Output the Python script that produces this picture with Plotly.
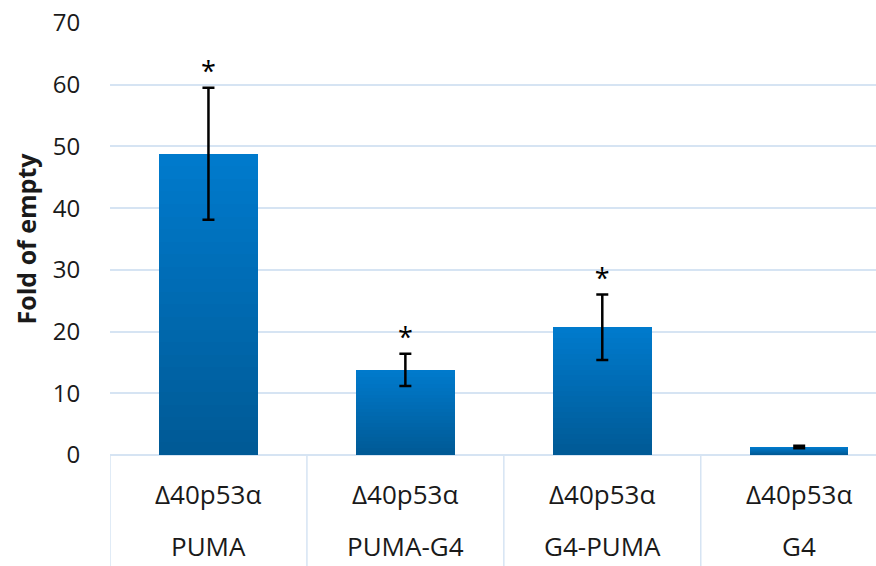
import plotly.graph_objects as go

categories = ["PUMA", "PUMA-G4", "G4-PUMA", "G4"]
construct = ["Δ40p53α", "Δ40p53α", "Δ40p53α", "Δ40p53α"]
values = [48.8, 13.8, 20.7, 1.3]
errors = [10.7, 2.6, 5.3, 0.2]
significance = ["*", "*", "*", ""]
y_ticks = [0, 10, 20, 30, 40, 50, 60, 70]

FONT = "Open Sans"
GRID = "#D6E4F3"
TXT = "#1a1a1a"

x = list(range(len(categories)))

fig = go.Figure()

# gradient bars: overlay progressively shorter bars, light at top to dark at bottom
N = 24
top_rgb = (0, 122, 204)
bot_rgb = (0, 90, 150)
for k in range(N):
    f = 1 - k / N
    t = k / (N - 1)
    r = round(top_rgb[0] + (bot_rgb[0] - top_rgb[0]) * t)
    g = round(top_rgb[1] + (bot_rgb[1] - top_rgb[1]) * t)
    b = round(top_rgb[2] + (bot_rgb[2] - top_rgb[2]) * t)
    fig.add_trace(go.Bar(
        x=x, y=[v * f for v in values], width=0.5,
        marker=dict(color=f"rgb({r},{g},{b})", line=dict(width=0)),
        hoverinfo="skip", showlegend=False,
    ))

# error bars on top
fig.add_trace(go.Scatter(
    x=x, y=values, mode="markers",
    marker=dict(size=1, color="rgba(0,0,0,0)"),
    error_y=dict(type="data", array=errors, visible=True, color="black",
                 thickness=2.5, width=6),
    showlegend=False,
))

# significance stars
fig.add_trace(go.Scatter(
    x=x, y=[v + e for v, e in zip(values, errors)], mode="text",
    text=significance, textposition="top center",
    textfont=dict(family=FONT, size=27, color="black"),
    showlegend=False,
))

# category separators
for i in range(len(categories) + 1):
    fig.add_shape(type="line", xref="x", yref="paper",
                  x0=i - 0.5, x1=i - 0.5, y0=0, y1=-111 / 432,
                  line=dict(color=GRID, width=1.5))

# two-row category labels
for xi, c, p in zip(x, construct, categories):
    fig.add_annotation(x=xi, y=-39 / 432, xref="x", yref="paper", text=c,
                       showarrow=False, yanchor="middle",
                       font=dict(family=FONT, size=26, color=TXT))
    fig.add_annotation(x=xi, y=-110 / 432, xref="x", yref="paper", text=p,
                       showarrow=False, yanchor="bottom", borderpad=0,
                       font=dict(family=FONT, size=26, color=TXT))

fig.update_layout(
    width=876, height=566,
    margin=dict(l=110, r=0, t=23, b=111),
    paper_bgcolor="white", plot_bgcolor="white",
    barmode="overlay", bargap=0,
    font=dict(family=FONT, color=TXT),
    xaxis=dict(
        tickmode="array", tickvals=x, showticklabels=False,
        range=[-0.5, 3.39], showgrid=False, zeroline=False,
        showline=False, ticks="", fixedrange=True,
    ),
    yaxis=dict(
        range=[0, 70], tickvals=y_ticks, showgrid=True, gridcolor=GRID,
        gridwidth=1.5, zeroline=True, zerolinecolor=GRID, zerolinewidth=1.5,
        ticks="outside", ticklen=24, tickcolor="rgba(0,0,0,0)",
        tickfont=dict(size=24, family=FONT, color=TXT),
        title=dict(text="<b>Fold of empty</b>", font=dict(size=25, family=FONT, color=TXT),
                   standoff=8),
    ),
)

fig.write_html("out.html")
